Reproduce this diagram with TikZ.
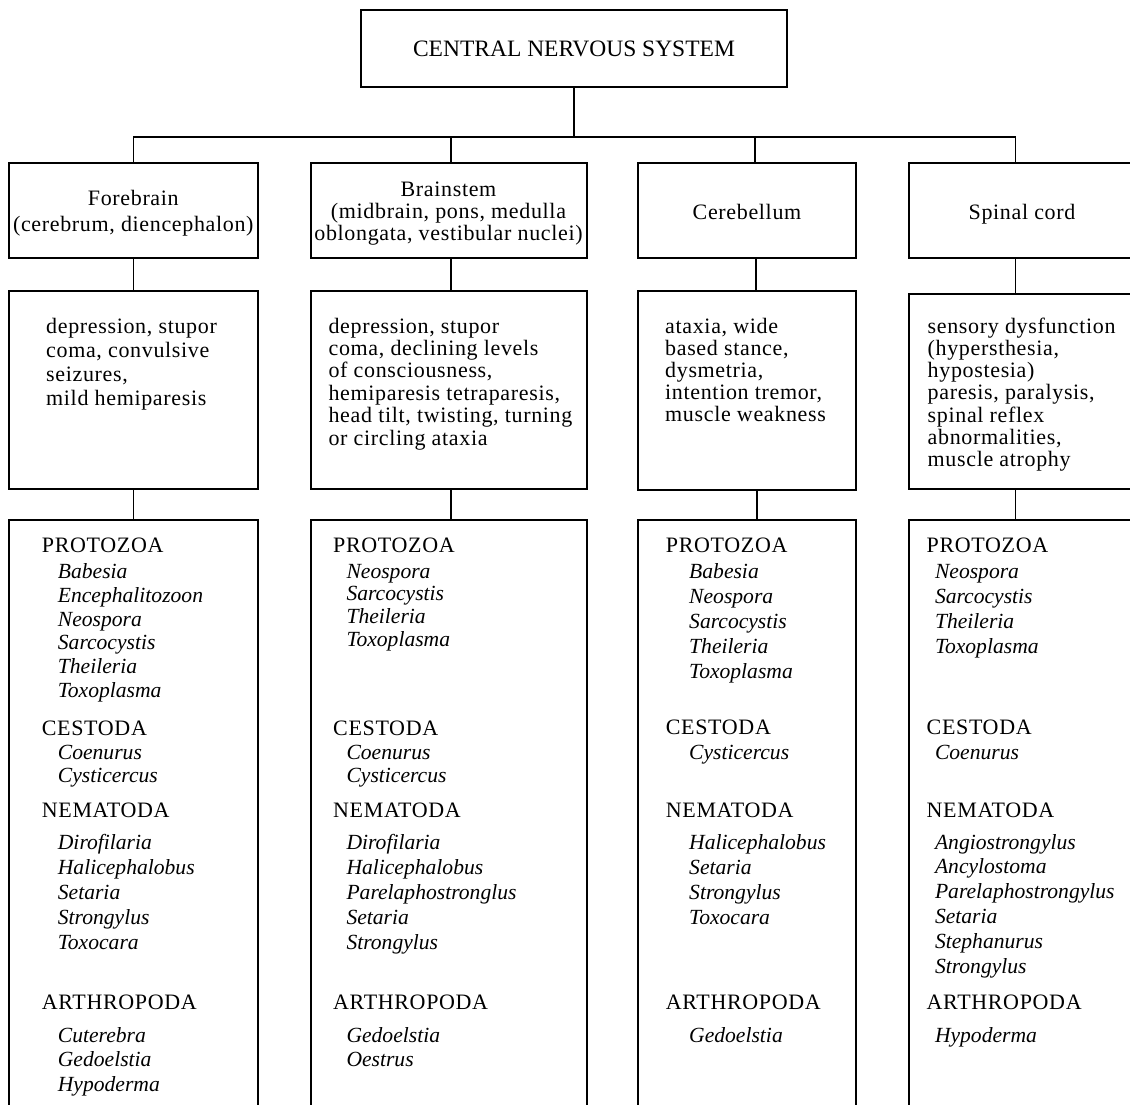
\documentclass[tikz,border=0pt]{standalone}
\usepackage{fontspec}
\setmainfont{Liberation Serif}
\newfontfamily\spaced{Liberation Serif}[LetterSpace=3]
\newcommand\tlines[6]{\foreach \t [count=\i from 0] in {#6} {\node[#1] (#2\i) at (#3,{#4+\i*#5}) {\t};}}
\begin{document}
\begin{tikzpicture}[x=1pt,y=-1pt,
  box/.style={draw, line width=1.3pt, inner sep=0pt, rectangle},
  conn/.style={line width=1.3pt},
  hd/.style={anchor=base west, inner sep=0pt, font=\spaced\fontsize{22}{26}\selectfont},
  ctr/.style={anchor=base, inner sep=0pt, font=\spaced\fontsize{22}{26}\selectfont},
  it/.style={anchor=base west, inner sep=0pt, font=\itshape\fontsize{21.6}{26}\selectfont}]
\useasboundingbox (0,0) rectangle (1130,1104);
\clip (0,0) rectangle (1130,1104);
% boxes
\node[box, minimum width=426pt, minimum height=77pt] (top) at (574,48.5) {};
\node[box, minimum width=249pt, minimum height=95pt] (r2c1) at (133.5,210.5) {};
\node[box, minimum width=276pt, minimum height=95pt] (r2c2) at (449,210.5) {};
\node[box, minimum width=218pt, minimum height=95pt] (r2c3) at (747,210.5) {};
\node[box, minimum width=227pt, minimum height=95pt] (r2c4) at (1022.5,210.5) {};
\node[box, minimum width=249pt, minimum height=198pt] (r3c1) at (133.5,390) {};
\node[box, minimum width=276pt, minimum height=198pt] (r3c2) at (449,390) {};
\node[box, minimum width=218pt, minimum height=199pt] (r3c3) at (747,390.5) {};
\node[box, minimum width=227pt, minimum height=195pt] (r3c4) at (1022.5,391.5) {};
\node[box, minimum width=249pt, minimum height=600pt] (r4c1) at (133.5,820) {};
\node[box, minimum width=276pt, minimum height=600pt] (r4c2) at (449,820) {};
\node[box, minimum width=218pt, minimum height=600pt] (r4c3) at (747,820) {};
\node[box, minimum width=227pt, minimum height=600pt] (r4c4) at (1022.5,820) {};
% connectors
\coordinate (bus) at (574,137);
\coordinate (d1) at (r2c1.north);
\coordinate (d2) at ([xshift=2pt]r2c2.north);
\coordinate (d3) at ([xshift=8pt]r2c3.north);
\coordinate (d4) at ([xshift=-7pt]r2c4.north);
\draw[conn] (top.south) -- (bus);
\draw[conn] (d1) |- (bus) -| (d4);
\draw[conn] (d2) -- (d2 |- bus);
\draw[conn] (d3) -- (d3 |- bus);
\draw[conn] (r2c1.south) -- (r3c1.north);
\draw[conn] ([xshift=2pt]r2c2.south) -- ([xshift=2pt]r3c2.north);
\draw[conn] ([xshift=9pt]r2c3.south) -- ([xshift=9pt]r3c3.north);
\draw[conn] ([xshift=-7pt]r2c4.south) -- ([xshift=-7pt]r3c4.north);
\draw[conn] (r3c1.south) -- (r4c1.north);
\draw[conn] ([xshift=2pt]r3c2.south) -- ([xshift=2pt]r4c2.north);
\draw[conn] ([xshift=10pt]r3c3.south) -- ([xshift=10pt]r4c3.north);
\draw[conn] ([xshift=-7pt]r3c4.south) -- ([xshift=-7pt]r4c4.north);
% top and row 2 texts
\node[anchor=base, inner sep=0pt, font=\fontsize{23.5}{27}\selectfont] (cns) at (574,56) {CENTRAL NERVOUS SYSTEM};
\node[ctr] (fb1) at (133.3,205.7) {Forebrain};
\node[ctr] (fb2) at (133.3,231.3) {(cerebrum, diencephalon)};
\node[ctr] (bs1) at (448.5,196.7) {Brainstem};
\node[ctr] (bs2) at (448.5,218.5) {(midbrain, pons, medulla};
\node[ctr] (bs3) at (448.5,240.7) {oblongata, vestibular nuclei)};
\node[ctr] (cb1) at (747,219) {Cerebellum};
\node[ctr] (sc1) at (1022,219) {Spinal cord};
% row 3 texts
\tlines{hd}{s1}{46}{333}{24.2}{{depression, stupor},{coma, convulsive},{seizures,},{mild hemiparesis}}
\tlines{hd}{s2}{328.4}{333}{22.4}{{depression, stupor},{coma, declining levels},{of consciousness,},{hemiparesis tetraparesis,},{head tilt, twisting, turning},{or circling ataxia}}
\tlines{hd}{s3}{665}{333}{22}{{ataxia, wide},{based stance,},{dysmetria,},{intention tremor,},{muscle weakness}}
\tlines{hd}{s4}{927.5}{333}{22.3}{{sensory dysfunction},{(hypersthesia,},{hypostesia)},{paresis, paralysis,},{spinal reflex},{abnormalities,},{muscle atrophy}}
% row 4, column 1
\node[hd] (p1) at (41.7,552.7) {PROTOZOA};
\tlines{it}{p1i}{57.7}{578.7}{23.7}{Babesia,Encephalitozoon,Neospora,Sarcocystis,Theileria,Toxoplasma}
\node[hd] (c1) at (41.7,735) {CESTODA};
\tlines{it}{c1i}{57.7}{759}{23.5}{Coenurus,Cysticercus}
\node[hd] (n1) at (41.7,817.3) {NEMATODA};
\tlines{it}{n1i}{57.7}{849}{25}{Dirofilaria,Halicephalobus,Setaria,Strongylus,Toxocara}
\node[hd] (a1) at (41.7,1009.5) {ARTHROPODA};
\tlines{it}{a1i}{57.7}{1042}{24.5}{Cuterebra,Gedoelstia,Hypoderma}
% row 4, column 2
\node[hd] (p2) at (333,552.7) {PROTOZOA};
\tlines{it}{p2i}{346.3}{578.3}{22.6}{Neospora,Sarcocystis,Theileria,Toxoplasma}
\node[hd] (c2) at (333,735) {CESTODA};
\tlines{it}{c2i}{346.3}{759.5}{22.5}{Coenurus,Cysticercus}
\node[hd] (n2) at (333,817.3) {NEMATODA};
\tlines{it}{n2i}{346.3}{849}{25}{Dirofilaria,Halicephalobus,Parelaphostronglus,Setaria,Strongylus}
\node[hd] (a2) at (333,1009.5) {ARTHROPODA};
\tlines{it}{a2i}{346.3}{1042}{24.5}{Gedoelstia,Oestrus}
% row 4, column 3
\node[hd] (p3) at (665.7,552.7) {PROTOZOA};
\tlines{it}{p3i}{689}{578.3}{25}{Babesia,Neospora,Sarcocystis,Theileria,Toxoplasma}
\node[hd] (c3) at (665.7,734.5) {CESTODA};
\tlines{it}{c3i}{689}{759.3}{25}{Cysticercus}
\node[hd] (n3) at (665.7,817.3) {NEMATODA};
\tlines{it}{n3i}{689}{849}{25}{Halicephalobus,Setaria,Strongylus,Toxocara}
\node[hd] (a3) at (665.7,1009.5) {ARTHROPODA};
\tlines{it}{a3i}{689}{1042}{24.5}{Gedoelstia}
% row 4, column 4
\node[hd] (p4) at (926.5,552.7) {PROTOZOA};
\tlines{it}{p4i}{934.8}{578.3}{25}{Neospora,Sarcocystis,Theileria,Toxoplasma}
\node[hd] (c4) at (926.5,734.5) {CESTODA};
\tlines{it}{c4i}{934.8}{759.3}{25}{Coenurus}
\node[hd] (n4) at (926.5,817.3) {NEMATODA};
\tlines{it}{n4i}{934.8}{849}{24.9}{Angiostrongylus,Ancylostoma,Parelaphostrongylus,Setaria,Stephanurus,Strongylus}
\node[hd] (a4) at (926.5,1009.5) {ARTHROPODA};
\tlines{it}{a4i}{934.8}{1042}{24.5}{Hypoderma}
\end{tikzpicture}
\end{document}
